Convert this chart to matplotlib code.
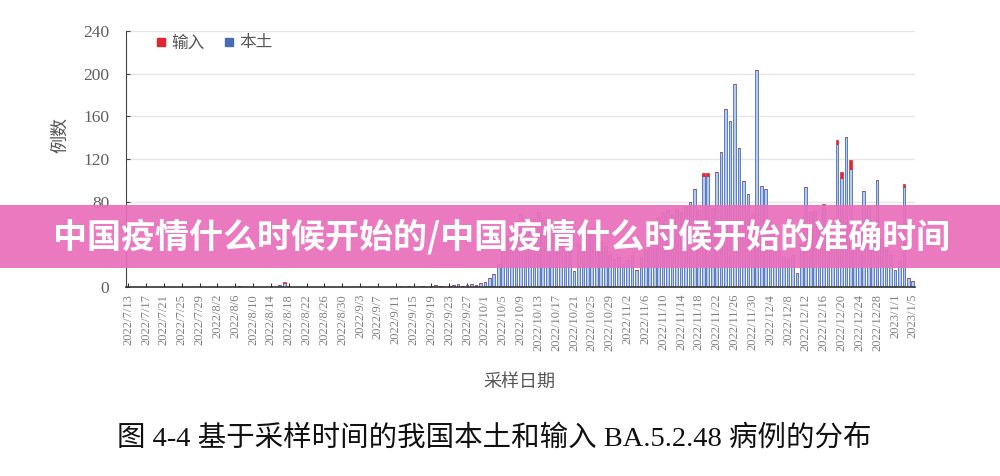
import numpy as np
import pandas as pd
import matplotlib
matplotlib.use('Agg')
import matplotlib.pyplot as plt
from matplotlib.patches import Rectangle
from matplotlib.lines import Line2D

plt.rcParams['font.family'] = ['Noto Sans CJK SC', 'DejaVu Sans']

# daily cases, 2022/7/13 .. 2023/1/5
dates = pd.date_range('2022-07-13', '2023-01-05', freq='D')

local = [0, 0, 0, 0, 0, 0, 0, 0, 0, 0,
         0, 0, 0, 0, 0, 0, 0, 0, 0, 0,
         0, 0, 0, 0, 0, 1, 0, 0, 0, 0,
         0, 0, 1, 0, 2, 4, 1, 0, 0, 0,
         0, 0, 0, 0, 0, 0, 0, 0, 0, 0,
         0, 0, 0, 0, 0, 0, 0, 0, 0, 0,
         0, 1, 0, 1, 0, 0, 1, 0, 1, 2,
         1, 0, 1, 2, 3, 1, 2, 3, 2, 4,
         5, 8, 12, 22, 35, 48, 56, 62, 68, 60,
         57, 64, 70, 63, 55, 60, 52, 47, 42, 38,
         15, 40, 45, 50, 55, 48, 42, 38, 30, 26,
         28, 22, 25, 30, 16, 28, 35, 45, 58, 66,
         70, 72, 68, 73, 70, 75, 80, 92, 72, 104,
         104, 74, 108, 127, 167, 156, 190, 130, 99, 87,
         68, 203, 95, 92, 62, 50, 35, 28, 26, 30,
         13, 40, 94, 70, 71, 62, 78, 52, 46, 134,
         102, 141, 111, 60, 55, 90, 76, 50, 100, 45,
         36, 30, 16, 24, 94, 8, 6]

imported = [0] * len(dates)
for i, v in {35: 1, 129: 3, 130: 3, 159: 4, 160: 6, 162: 8, 174: 3}.items():
    imported[i] = v

assert len(local) == len(dates)

tick_labels = [f"{d.year}/{d.month}/{d.day}" for d in dates]

blue_fill = '#b7cbee'
blue_edge = '#5d7cc0'
red = '#e2262f'
grey = '#555555'

fig = plt.figure(figsize=(10, 4.76), dpi=100)
ax = fig.add_axes([0.126, 0.397, 0.789, 0.538])

x = np.arange(len(dates))
ax.bar(x, local, width=0.6, color=blue_fill, edgecolor=blue_edge, linewidth=0.7, zorder=2)
ax.bar(x, imported, bottom=local, width=0.6, color=red, edgecolor=red, linewidth=0.5, zorder=2)

ax.set_xlim(-0.5, len(dates) - 0.5)
ax.set_ylim(0, 240)
ax.set_yticks(np.arange(0, 241, 40))
ax.grid(axis='y', color='#e6e6e6', linewidth=1, zorder=0)
ax.set_axisbelow(True)

ax.set_xticks(x[::4])
ax.set_xticklabels(tick_labels[::4], rotation=90, fontsize=9, color='#808080',
                   family='Liberation Serif')
for lab in ax.get_yticklabels():
    lab.set_family('Liberation Serif')
ax.tick_params(axis='y', direction='in', length=3, labelsize=12.5, labelcolor='#606060',
               color='#444444', pad=12)
ax.tick_params(axis='x', direction='in', length=3, color='#333333', pad=5)

for s in ['top', 'right']:
    ax.spines[s].set_visible(False)
ax.spines['left'].set_color('#444444')
ax.spines['bottom'].set_color('#333333')
ax.spines['bottom'].set_linewidth(1.2)

handles = [Line2D([], [], marker='s', linestyle='', color=red, markersize=6),
           Line2D([], [], marker='s', linestyle='', color='#4a6cb3', markersize=6)]
leg = ax.legend(handles, ['输入', '本土'], loc='upper left', bbox_to_anchor=(0.015, 1.045),
                ncol=2, frameon=False, handletextpad=0.1, columnspacing=1.0,
                fontsize=12, handlelength=1.0)
for t in leg.get_texts():
    t.set_color(grey)

fig.text(0.06, 0.716, '例数', rotation=90, ha='center', va='center', fontsize=13, color=grey)
fig.text(0.519, 0.198, '采样日期', ha='center', va='center', fontsize=13, color=grey)
fig.text(0.494, 0.08, '图 4-4 基于采样时间的我国本土和输入 BA.5.2.48 病例的分布',
         ha='center', va='center', fontsize=20.5, color='#111111',
         family=['Liberation Serif', 'Noto Sans CJK SC'])

# pink banner over the chart
fig.patches.append(Rectangle((0, 0.437), 1, 0.1325, transform=fig.transFigure,
                             facecolor='#ea6fbc', alpha=0.93, edgecolor='none', zorder=10))
fig.text(0.502, 0.503, '中国疫情什么时候开始的/中国疫情什么时候开始的准确时间',
         ha='center', va='center', fontsize=24.5, color='white', fontweight='bold', zorder=11)

fig.savefig('out.png', dpi=100)
